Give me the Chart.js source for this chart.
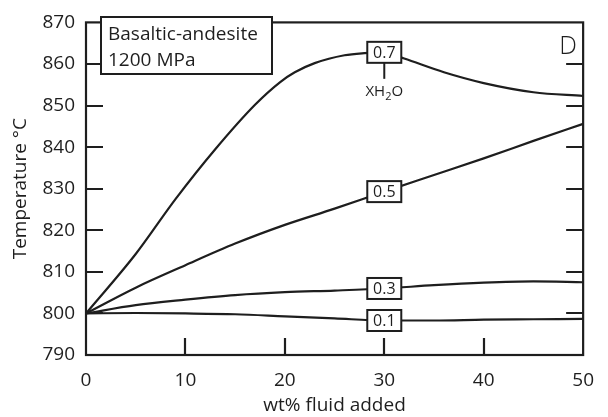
<!DOCTYPE html>
<html>
<head>
<meta charset="utf-8">
<script src="https://cdn.jsdelivr.net/npm/chart.js@4"></script>
<style>
  html, body { margin: 0; padding: 0; background: #fff; }
  #wrap { width: 608px; height: 417px; }
</style>
</head>
<body>
<div id="wrap"><canvas id="grafico"></canvas></div>
<script>
// fluid added (wt%) and temperature (°C) for each XH2O curve
const x07 = [0, 5, 9, 13, 17, 19.5, 21, 23, 26, 28, 30, 32, 36, 40, 45, 50];
const t07 = [800, 814.3, 827.5, 839.5, 850.2, 855.6, 858, 860.2, 862.1, 862.6, 862.8, 861.3, 858, 855.4, 853.2, 852.3];
const x05 = [0, 5, 10, 15, 20, 25, 30, 35, 40, 45, 50];
const t05 = [800, 806.2, 811.6, 816.8, 821.3, 825.2, 829.3, 833.3, 837.3, 841.5, 845.6];
const x03 = [0, 5, 10, 15, 20, 25, 30, 35, 40, 45, 50];
const t03 = [800, 802, 803.3, 804.4, 805.1, 805.5, 806, 806.8, 807.4, 807.7, 807.5];
const x01 = [0, 5, 10, 15, 20, 25, 30, 35, 40, 45, 50];
const t01 = [800, 800.1, 800, 799.8, 799.3, 798.8, 798.3, 798.3, 798.5, 798.6, 798.7];

const curveLabels = ['0.7', '0.5', '0.3', '0.1'];
const labelAt = 30;
const xTicks = [0, 10, 20, 30, 40, 50];
const yTicks = [790, 800, 810, 820, 830, 840, 850, 860, 870];

const ink = '#1e1e1e';
const fontFam = '"Open Sans", "Noto Sans", sans-serif';

function pts(xs, ys) {
  return xs.map((v, i) => ({ x: v, y: ys[i] }));
}

const series = [pts(x07, t07), pts(x05, t05), pts(x03, t03), pts(x01, t01)];

// frame, inward ticks, boxed curve labels and the sample note
const decor = {
  id: 'decor',
  afterDatasetsDraw(chart) {
    const { ctx, chartArea: a, scales: { x, y } } = chart;
    ctx.save();
    ctx.strokeStyle = ink;
    ctx.lineWidth = 2.2;
    ctx.strokeRect(a.left, a.top, a.right - a.left, a.bottom - a.top);

    ctx.beginPath();
    yTicks.slice(1, -1).forEach(v => {
      const py = Math.round(y.getPixelForValue(v));
      ctx.moveTo(a.left, py); ctx.lineTo(a.left + 17, py);
      ctx.moveTo(a.right - 17, py); ctx.lineTo(a.right, py);
    });
    xTicks.slice(1, -1).forEach(v => {
      const px = Math.round(x.getPixelForValue(v));
      ctx.moveTo(px, a.bottom); ctx.lineTo(px, a.bottom - 17);
    });
    ctx.stroke();

    // boxed XH2O values on each curve
    ctx.lineWidth = 2;
    ctx.textAlign = 'center';
    ctx.textBaseline = 'middle';
    series.forEach((s, i) => {
      const p = s.find(d => d.x === labelAt);
      const px = x.getPixelForValue(p.x);
      const py = y.getPixelForValue(p.y);
      const w = 34, h = 21;
      ctx.fillStyle = '#fff';
      ctx.fillRect(px - w / 2, py - h / 2, w, h);
      ctx.strokeRect(px - w / 2, py - h / 2, w, h);
      ctx.fillStyle = ink;
      ctx.font = '16px ' + fontFam;
      ctx.fillText(curveLabels[i], px, py + 1);
      if (i === 0) {
        ctx.beginPath();
        ctx.moveTo(px, py + h / 2);
        ctx.lineTo(px, py + h / 2 + 16);
        ctx.stroke();
        // XH2O with subscript 2
        const ty = py + h / 2 + 29;
        ctx.font = '15px ' + fontFam;
        const wX = ctx.measureText('XH').width;
        const wO = ctx.measureText('O').width;
        ctx.font = '11px ' + fontFam;
        const w2 = ctx.measureText('2').width;
        const start = px - (wX + w2 + wO) / 2;
        ctx.textAlign = 'left';
        ctx.font = '15px ' + fontFam;
        ctx.fillText('XH', start, ty);
        ctx.fillText('O', start + wX + w2, ty);
        ctx.font = '11px ' + fontFam;
        ctx.fillText('2', start + wX, ty + 5);
        ctx.textAlign = 'center';
      }
    });

    // composition / pressure note
    ctx.fillStyle = '#fff';
    ctx.fillRect(101, 17, 171, 57);
    ctx.strokeRect(101, 17, 171, 57);
    ctx.fillStyle = ink;
    ctx.textAlign = 'left';
    ctx.textBaseline = 'alphabetic';
    ctx.font = '19px ' + fontFam;
    ctx.fillText('Basaltic-andesite', 108, 40);
    ctx.fillText('1200 MPa', 108, 66);

    // panel letter
    ctx.font = '300 25px ' + fontFam;
    ctx.textAlign = 'center';
    ctx.fillText('D', 568, 54);
    ctx.restore();
  }
};

const ctx = document.getElementById('grafico').getContext('2d');

const grafico = new Chart(ctx, {
  type: 'line',
  data: {
    datasets: series.map((s, i) => ({
      label: curveLabels[i],
      data: s,
      borderColor: ink,
      borderWidth: 2.2,
      pointRadius: 0,
      cubicInterpolationMode: 'monotone',
      fill: false
    }))
  },
  options: {
    responsive: true,
    maintainAspectRatio: false,
    animation: false,
    layout: { padding: { top: 14, right: 12, left: 9, bottom: 0 } },
    plugins: {
      legend: { display: false },
      tooltip: { enabled: false }
    },
    scales: {
      x: {
        type: 'linear',
        min: 0,
        max: 50,
        afterFit: s => { s.height = 62; },
        afterBuildTicks: s => { s.ticks = xTicks.map(v => ({ value: v })); },
        grid: { display: false, drawTicks: false },
        border: { display: false },
        ticks: {
          color: ink,
          padding: 14,
          font: { family: fontFam, size: 19 }
        },
        title: {
          display: true,
          text: 'wt% fluid added',
          color: ink,
          padding: { top: 0, bottom: 0 },
          font: { family: fontFam, size: 19 }
        }
      },
      y: {
        min: 790,
        max: 870,
        afterFit: s => { s.width = 77; },
        afterBuildTicks: s => { s.ticks = yTicks.map(v => ({ value: v })); },
        grid: { display: false, drawTicks: false },
        border: { display: false },
        ticks: {
          color: ink,
          padding: 11,
          font: { family: fontFam, size: 19 }
        },
        title: {
          display: true,
          text: 'Temperature °C',
          color: ink,
          padding: { top: 0, bottom: 0 },
          font: { family: fontFam, size: 19 }
        }
      }
    }
  },
  plugins: [decor]
});
</script>
</body>
</html>
